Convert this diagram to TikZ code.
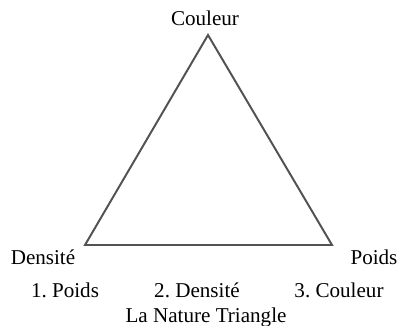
\documentclass[tikz,border=0pt]{standalone}
\usepackage{fontspec}
\setmainfont{Liberation Serif}
\usetikzlibrary{positioning}
\frenchspacing

\tikzset{
  edge/.style={draw=black!68,line width=1.4pt,line join=miter},
  lbl/.style={font=\fontsize{15}{18}\selectfont,inner sep=0pt,anchor=base}
}

\begin{document}
\begin{tikzpicture}[x=0.025cm,y=-0.025cm]
\useasboundingbox (0,0) rectangle (400,326);
% corners
\coordinate (top) at (208,35);
\coordinate (left) at (85,245);
\coordinate (right) at (332,245);
\draw[edge] (top) -- (right) -- (left) -- cycle;
% labels
\node[lbl] (couleur) at (205,26) {Couleur};
\node[lbl] (densite) at (43,265) {Densité};
\node[lbl] (poids) at (374,265) {Poids};
\node[lbl] (un) at (65,298) {1. Poids};
\node[lbl] (deux) at (197,298) {2. Densité};
\node[lbl] (trois) at (339,298) {3. Couleur};
\node[lbl] (titre) at (206,322) {La Nature Triangle};
\end{tikzpicture}
\end{document}
